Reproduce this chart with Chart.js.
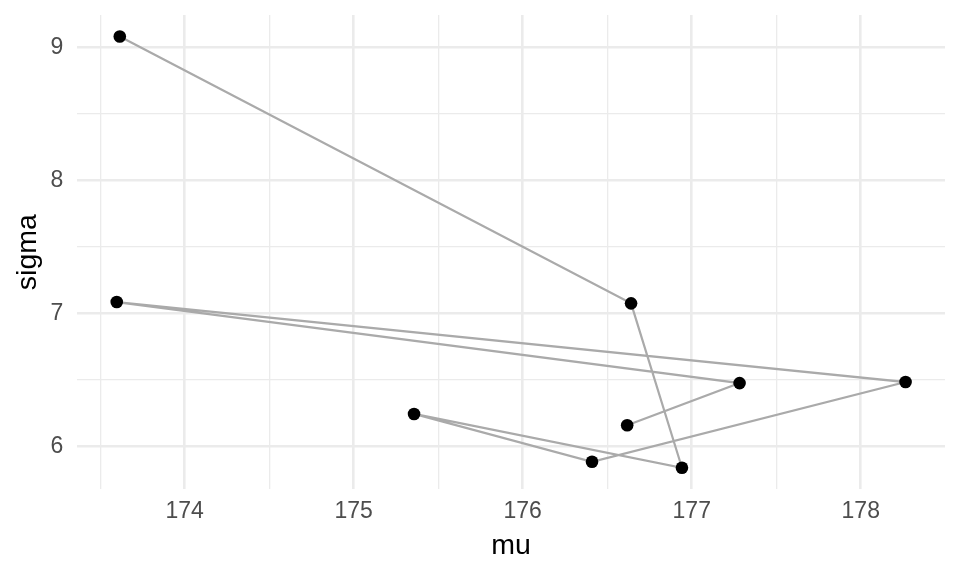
<!DOCTYPE html>
<html>
<head>
<meta charset="utf-8">
<script src="https://cdn.jsdelivr.net/npm/chart.js@4/dist/chart.umd.min.js"></script>
<style>
  html, body { margin: 0; padding: 0; background: #fff; }
  #wrap { width: 960px; height: 576px; }
</style>
</head>
<body>
<div id="wrap"><canvas id="chart" width="960" height="576"></canvas></div>
<script>
// Path of (mu, sigma) pairs, in drawing order
const mu = [173.616, 176.641, 176.942, 175.357, 176.410, 178.265, 173.598, 177.283, 176.618];
const sigma = [9.083, 7.075, 5.838, 6.243, 5.883, 6.483, 7.085, 6.475, 6.158];

// Grid positions (whole numbers get labels, halves are minor lines)
const muGrid = [173.5, 174, 174.5, 175, 175.5, 176, 176.5, 177, 177.5, 178];
const sigmaGrid = [6, 6.5, 7, 7.5, 8, 8.5, 9];

const FONT = '"Liberation Sans", Arial, sans-serif';

// ggplot-style 5% expansion of the data range
function expand(values) {
    const lo = Math.min(...values);
    const hi = Math.max(...values);
    const pad = (hi - lo) * 0.05;
    return { min: lo - pad, max: hi + pad };
}

const xRange = expand(mu);
const yRange = expand(sigma);

const points = mu.map((m, i) => ({ x: m, y: sigma[i] }));

const isMajor = v => Math.abs(v - Math.round(v)) < 1e-9;

function gridStyle() {
    return {
        color: '#EBEBEB',
        lineWidth: ctx => (ctx.tick && isMajor(ctx.tick.value) ? 2.6 : 1.3),
        drawTicks: false
    };
}

// stop label-overhang padding from shrinking the plot panel
function clearPadding(scale) {
    scale.paddingTop = 0;
    scale.paddingBottom = 0;
    scale.paddingLeft = 0;
    scale.paddingRight = 0;
}

new Chart(document.getElementById('chart'), {
    type: 'scatter',
    data: {
        datasets: [{
            data: points,
            showLine: true,
            borderColor: '#AAAAAA',
            borderWidth: 2.2,
            tension: 0,
            pointRadius: 6.3,
            pointBackgroundColor: '#000000',
            pointBorderWidth: 0,
            pointHoverRadius: 6.3
        }]
    },
    options: {
        responsive: false,
        animation: false,
        devicePixelRatio: 1,
        layout: {
            padding: { top: 15, right: 15, left: 0, bottom: 0 }
        },
        plugins: {
            legend: { display: false },
            tooltip: { enabled: false }
        },
        scales: {
            x: {
                type: 'linear',
                min: xRange.min,
                max: xRange.max,
                afterBuildTicks: scale => {
                    scale.ticks = muGrid.map(v => ({ value: v }));
                },
                afterFit: scale => {
                    scale.height = 86.7;
                    clearPadding(scale);
                },
                grid: gridStyle(),
                border: { display: false },
                ticks: {
                    autoSkip: false,
                    maxRotation: 0,
                    padding: 8.5,
                    color: '#4D4D4D',
                    font: { family: FONT, size: 23 },
                    callback: v => (isMajor(v) ? String(Math.round(v)) : '')
                },
                title: {
                    display: true,
                    text: 'mu',
                    color: '#000000',
                    font: { family: FONT, size: 28.5 },
                    padding: { top: 0, bottom: 12.5 }
                }
            },
            y: {
                type: 'linear',
                min: yRange.min,
                max: yRange.max,
                afterBuildTicks: scale => {
                    scale.ticks = sigmaGrid.map(v => ({ value: v }));
                },
                afterFit: scale => {
                    scale.width = 77.3;
                    clearPadding(scale);
                },
                grid: gridStyle(),
                border: { display: false },
                ticks: {
                    autoSkip: false,
                    padding: 14,
                    color: '#4D4D4D',
                    font: { family: FONT, size: 23 },
                    callback: v => (isMajor(v) ? String(Math.round(v)) : '')
                },
                title: {
                    display: true,
                    text: 'sigma',
                    color: '#000000',
                    font: { family: FONT, size: 28.5 },
                    padding: { top: 11, bottom: 0 }
                }
            }
        }
    }
});
</script>
</body>
</html>
